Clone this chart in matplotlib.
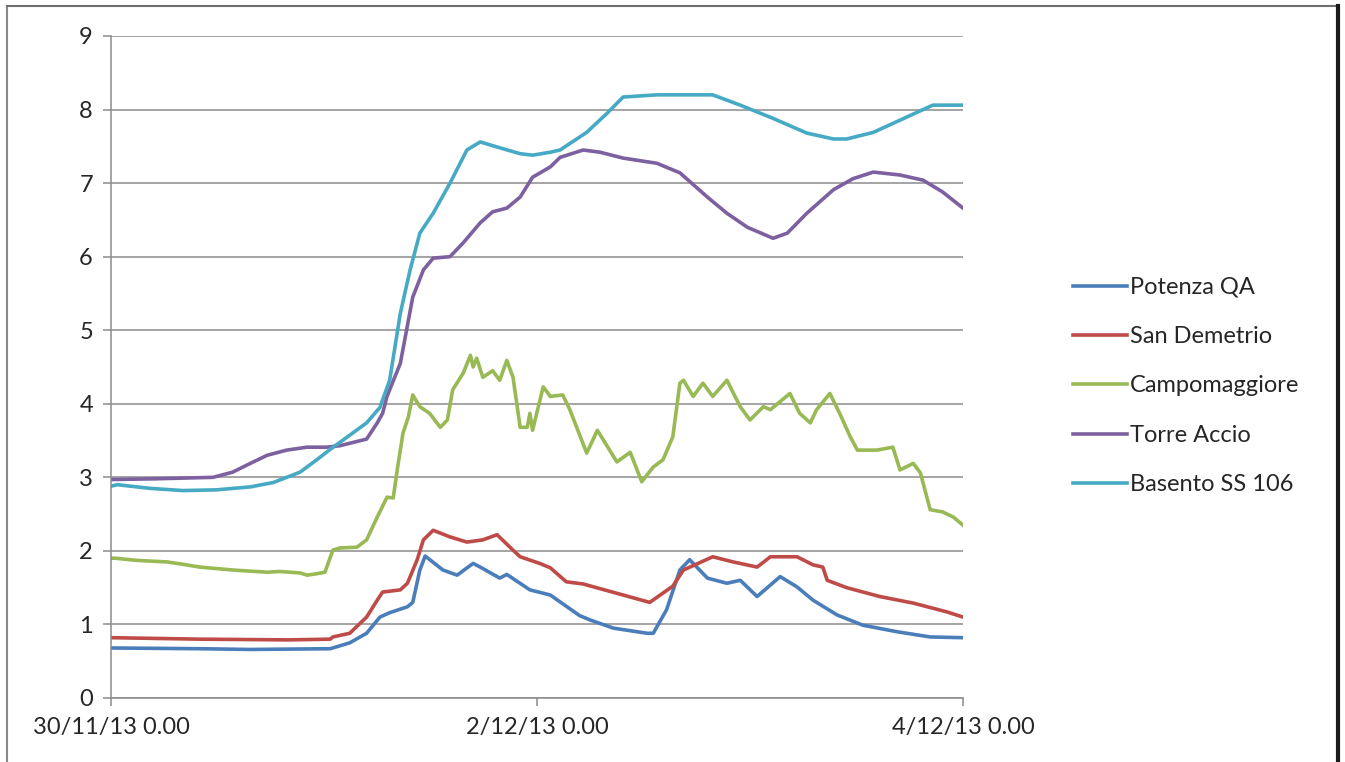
import matplotlib
matplotlib.use("Agg")
import matplotlib.pyplot as plt
from matplotlib.lines import Line2D

# Hours since 30/11/13 0.00 and water level readings for each station
potenza_hours = [0, 10, 15.7, 24.7, 26.9, 28.8, 30.3, 31.4, 33.4, 34.0, 34.8, 35.4, 37.4, 39.0,
                 40.8, 41.6, 43.8, 44.6, 47.2, 49.5, 52.8, 54.0, 56.6, 60.4, 61.1, 62.6, 64.1,
                 65.2, 67.2, 69.4, 70.9, 72.8, 75.4, 77.3, 79.1, 81.8, 84.7, 88.6, 92.3, 96]
potenza_values = [0.68, 0.67, 0.66, 0.67, 0.75, 0.88, 1.10, 1.16, 1.24, 1.30, 1.74, 1.93, 1.74, 1.67,
                  1.83, 1.78, 1.63, 1.68, 1.47, 1.40, 1.12, 1.06, 0.95, 0.88, 0.88, 1.20, 1.74,
                  1.88, 1.63, 1.56, 1.60, 1.38, 1.65, 1.51, 1.33, 1.13, 0.99, 0.90, 0.83, 0.82]

demetrio_hours = [0, 10, 20, 24.7, 25.0, 26.9, 28.8, 30.0, 30.6, 32.6, 33.4, 34.5, 35.2, 36.3,
                  38.2, 40.1, 41.9, 43.5, 45.3, 46.1, 48.3, 49.5, 51.3, 53.2, 57.7, 60.7, 63.3,
                  64.5, 67.8, 70.1, 72.8, 74.3, 77.3, 79.1, 80.2, 80.7, 82.9, 86.6, 90.4, 94.2, 96]
demetrio_values = [0.82, 0.80, 0.79, 0.80, 0.83, 0.88, 1.10, 1.33, 1.44, 1.47, 1.56, 1.88, 2.15, 2.28,
                   2.19, 2.12, 2.15, 2.22, 2.01, 1.92, 1.83, 1.77, 1.58, 1.55, 1.40, 1.30, 1.52,
                   1.74, 1.92, 1.85, 1.78, 1.92, 1.92, 1.81, 1.78, 1.60, 1.50, 1.38, 1.29, 1.17, 1.10]

campo_hours = [0, 0.5, 3, 6.3, 8, 10, 13.7, 17.6, 19, 21.3, 22.1, 23.2, 24.1, 25.0, 25.8, 27.7,
               28.8, 30.0, 31.1, 31.8, 32.3, 32.9, 33.5, 34.0, 34.8, 35.9, 37.1, 37.9, 38.5,
               39.7, 40.5, 40.8, 41.2, 41.9, 43.0, 43.8, 44.6, 45.3, 46.1, 46.9, 47.2, 47.5,
               48.7, 49.5, 50.9, 51.7, 53.6, 54.8, 57.0, 58.5, 59.8, 61.1, 62.2, 63.3, 64.1,
               64.5, 65.6, 66.7, 67.8, 69.4, 70.9, 72.0, 73.5, 74.3, 76.5, 77.6, 78.8, 79.5,
               81.0, 82.1, 83.3, 84.1, 86.3, 88.1, 88.9, 90.4, 91.2, 92.3, 93.7, 94.9, 96]
campo_values = [1.90, 1.90, 1.87, 1.85, 1.82, 1.78, 1.74, 1.71, 1.72, 1.70, 1.67, 1.69, 1.71, 2.01,
                2.04, 2.05, 2.15, 2.46, 2.73, 2.72, 3.14, 3.60, 3.82, 4.12, 3.96, 3.87, 3.68, 3.78,
                4.19, 4.42, 4.66, 4.50, 4.62, 4.36, 4.45, 4.32, 4.59, 4.36, 3.68, 3.68, 3.87, 3.64,
                4.23, 4.10, 4.12, 3.92, 3.33, 3.64, 3.21, 3.34, 2.94, 3.14, 3.24, 3.55, 4.28,
                4.32, 4.10, 4.28, 4.10, 4.32, 3.96, 3.78, 3.96, 3.92, 4.14, 3.87, 3.74, 3.92,
                4.14, 3.87, 3.55, 3.37, 3.37, 3.41, 3.10, 3.19, 3.06, 2.56, 2.53, 2.46, 2.35]

torre_hours = [0, 5, 11.5, 13.7, 15.7, 17.6, 19.8, 22.1, 24.3, 25.8, 28.8, 30.0, 30.6, 31.1, 32.6,
               34.0, 35.2, 36.3, 38.2, 39.7, 41.6, 43.0, 44.6, 46.1, 47.5, 49.5, 50.6, 53.2,
               55.1, 57.7, 61.5, 64.1, 67.2, 69.4, 71.7, 74.6, 76.2, 78.4, 81.4, 83.6, 85.9,
               88.9, 91.5, 93.7, 96]
torre_values = [2.97, 2.98, 3.00, 3.07, 3.19, 3.30, 3.37, 3.41, 3.41, 3.43, 3.52, 3.74, 3.87, 4.10, 4.55,
                5.45, 5.82, 5.98, 6.00, 6.19, 6.46, 6.61, 6.66, 6.81, 7.08, 7.22, 7.35, 7.45,
                7.42, 7.34, 7.27, 7.14, 6.81, 6.59, 6.40, 6.25, 6.32, 6.59, 6.91, 7.06, 7.15,
                7.11, 7.04, 6.88, 6.66]

basento_hours = [0, 0.7, 4.4, 8.1, 11.9, 15.7, 18.3, 21.3, 23.2, 24.7, 28.8, 30.3, 31.4, 32.6,
                 33.7, 34.8, 36.3, 38.2, 40.1, 41.6, 43.8, 46.1, 47.5, 49.5, 50.6, 53.6, 55.9,
                 57.7, 61.5, 67.8, 70.9, 74.6, 78.4, 81.4, 82.9, 85.9, 89.7, 92.6, 96]
basento_values = [2.88, 2.90, 2.85, 2.82, 2.83, 2.87, 2.93, 3.07, 3.24, 3.38, 3.74, 3.95, 4.32, 5.23,
                  5.82, 6.32, 6.59, 7.00, 7.45, 7.56, 7.48, 7.40, 7.38, 7.42, 7.45, 7.69, 7.95,
                  8.17, 8.20, 8.20, 8.06, 7.88, 7.68, 7.60, 7.60, 7.69, 7.90, 8.06, 8.06]

series_names = ["Potenza QA", "San Demetrio", "Campomaggiore", "Torre Accio", "Basento SS 106"]
x_tick_hours = [0, 48, 96]
x_tick_labels = ["30/11/13 0.00", "2/12/13 0.00", "4/12/13 0.00"]
y_ticks = list(range(0, 10))

colors = ["#4A7EBB", "#BE4B48", "#98B954", "#7D60A0", "#46AAC5"]

plt.rcParams["font.family"] = ["Lato", "DejaVu Sans"]

fig = plt.figure(figsize=(13.45, 7.62), dpi=100)
ax = fig.add_axes([111 / 1345, 1 - 698 / 762, (963 - 111) / 1345, (698 - 36) / 762])

data = [(potenza_hours, potenza_values), (demetrio_hours, demetrio_values),
        (campo_hours, campo_values), (torre_hours, torre_values),
        (basento_hours, basento_values)]
for (hrs, vals), name, col in zip(data, series_names, colors):
    ax.plot(hrs, vals, color=col, lw=2.6, label=name, solid_joinstyle="round")

ax.set_xlim(0, 96)
ax.set_ylim(0, 9)
ax.set_yticks(y_ticks)
ax.set_xticks(x_tick_hours)
ax.set_xticklabels(x_tick_labels)

grid_col = "#8C8C8C"
ax.grid(axis="y", color=grid_col, lw=1.1)
ax.set_axisbelow(True)
for side in ["top", "right"]:
    ax.spines[side].set_visible(False)
for side in ["left", "bottom"]:
    ax.spines[side].set_color(grid_col)
    ax.spines[side].set_linewidth(1.1)
ax.tick_params(axis="both", direction="out", length=6, width=1.1, color=grid_col,
               labelsize=17, labelcolor="#262626")
ax.tick_params(axis="y", pad=7)
ax.tick_params(axis="x", pad=8)

leg = ax.legend(loc="center left", bbox_to_anchor=(1073 / 1345, 1 - 386 / 762),
                bbox_transform=fig.transFigure, frameon=False, fontsize=17,
                handlelength=2.3, handletextpad=0.12, labelspacing=1.2, borderpad=0,
                borderaxespad=0)
for t in leg.get_texts():
    t.set_color("#262626")

# Outer chart frame
fig.add_artist(Line2D([7 / 1345, 7 / 1345], [0, 1 - 6 / 762], transform=fig.transFigure,
                      color="#8A8A8A", lw=1.5))
fig.add_artist(Line2D([7 / 1345, 1338 / 1345], [1 - 6 / 762, 1 - 6 / 762],
                      transform=fig.transFigure, color="#6E6E6E", lw=1.5))
fig.add_artist(Line2D([1338 / 1345, 1338 / 1345], [0, 1 - 6 / 762], transform=fig.transFigure,
                      color="#1A1A1A", lw=3))

fig.savefig("out.png", dpi=100)
